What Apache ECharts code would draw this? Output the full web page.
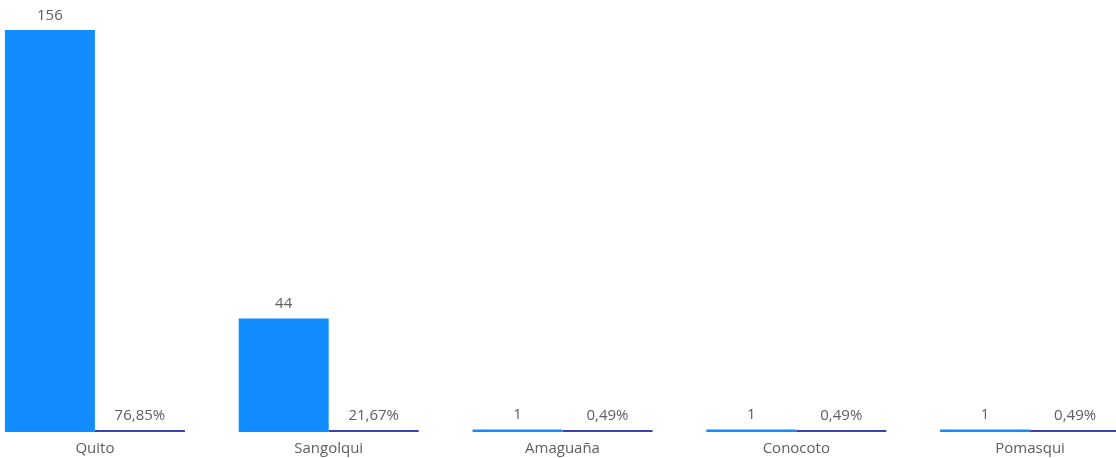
<!DOCTYPE html>
<html>
<head>
<meta charset="utf-8">
<script src="https://cdn.jsdelivr.net/npm/echarts@6/dist/echarts.min.js"></script>
<style>
  html, body { margin: 0; padding: 0; background: #ffffff; }
  #chart { width: 1116px; height: 458px; }
</style>
</head>
<body>
<div id="chart"></div>
<script>
// Cities, record counts and each city's share of the total
const categories = ['Quito', 'Sangolqui', 'Amaguaña', 'Conocoto', 'Pomasqui'];
const counts = [156, 44, 1, 1, 1];
const shares = [0.7685, 0.2167, 0.0049, 0.0049, 0.0049];

const FONT = '"Open Sans", "Noto Sans", sans-serif';
const TEXT_COLOR = '#605E5C';

function formatShare(v) {
  return (v * 100).toFixed(2).replace('.', ',') + '%';
}

const chart = echarts.init(document.getElementById('chart'), null, { renderer: 'canvas' });

chart.setOption({
  animation: false,
  grid: {
    left: -22, right: -31, top: 30, bottom: 26,
    containLabel: false,
    outerBoundsMode: 'none'
  },
  xAxis: {
    type: 'category',
    data: categories,
    axisLine: { show: false },
    axisTick: { show: false },
    axisLabel: {
      color: TEXT_COLOR,
      fontFamily: FONT,
      fontSize: 15,
      margin: 9
    }
  },
  yAxis: {
    type: 'value',
    min: 0,
    max: 156,
    show: false,
    splitLine: { show: false }
  },
  series: [
    {
      name: 'Cantidad',
      type: 'bar',
      data: counts,
      barWidth: 90,
      barGap: '0%',
      barMinHeight: 2,
      itemStyle: { color: '#118DFF' },
      label: {
        show: true,
        position: 'top',
        distance: 7,
        color: TEXT_COLOR,
        fontFamily: FONT,
        fontSize: 15
      }
    },
    {
      name: 'Porcentaje',
      type: 'bar',
      data: shares,
      barWidth: 90,
      barGap: '0%',
      barMinHeight: 2,
      itemStyle: { color: '#3A40B4' },
      label: {
        show: true,
        position: 'top',
        distance: 7,
        color: TEXT_COLOR,
        fontFamily: FONT,
        fontSize: 15,
        formatter: p => formatShare(p.value)
      }
    }
  ]
});
</script>
</body>
</html>
